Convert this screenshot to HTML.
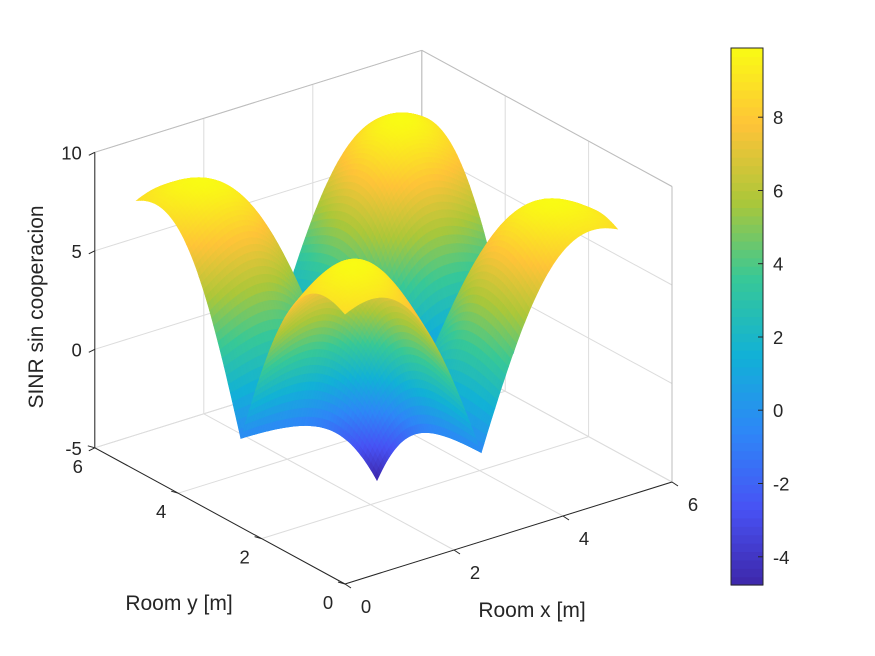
<!DOCTYPE html>
<html>
<head>
<meta charset="utf-8">
<style>
  html,body{margin:0;padding:0;background:#fff;}
  #wrap{position:relative;width:875px;height:656px;overflow:hidden;background:#fff;}
  svg text{font-family:"Liberation Sans",Arial,sans-serif;fill:#262626;}
</style>
</head>
<body>
<div id="wrap">
<svg id="chart" width="875" height="656" viewBox="0 0 875 656" xmlns="http://www.w3.org/2000/svg">
  <g id="grid"></g>
  <g id="surface"></g>
  <g id="axes"></g>
  <g id="cbar"></g>
  <text x="0" y="0" transform="translate(43,307) rotate(-90)" text-anchor="middle" font-size="21">SINR sin cooperacion</text>
  <text x="532" y="617" text-anchor="middle" font-size="21">Room x [m]</text>
  <text x="179" y="610" text-anchor="middle" font-size="21">Room y [m]</text>
</svg>
</div>
<script>
// ---- data ----
const apX = [1.25, 1.25, 3.75, 3.75];
const apY = [1.25, 3.75, 1.25, 3.75];
const roomMin = 0, roomMax = 5;
const apHeightSq = [3.5];
const pathExp = [2.66];
const xTicks = [0, 2, 4, 6];
const yTicks = [0, 2, 4, 6];
const zTicks = [-5, 0, 5, 10];
const cbTicks = [-4, -2, 0, 2, 4, 6, 8];
const parula = [[0.2422,0.1504,0.6603],[0.2810,0.3228,0.9579],[0.1786,0.5289,0.9682],[0.0689,0.6948,0.8394],[0.2161,0.7843,0.5923],[0.6720,0.7793,0.2227],[0.9970,0.7659,0.2199],[0.9769,0.9839,0.0805]];

const NS = "http://www.w3.org/2000/svg";
function P(x,y,z){ return [345 + 54.5*x - 41.7*y, 584 - 17*x - 22.7*y - 19.7*(z+5)]; }
function mk(tag, attrs, parent){ const e=document.createElementNS(NS,tag); for(const k in attrs) e.setAttribute(k,attrs[k]); parent.appendChild(e); return e; }
function line(a,b,stroke,w,parent,name){
  const e=mk('line',{x1:a[0].toFixed(1),y1:a[1].toFixed(1),x2:b[0].toFixed(1),y2:b[1].toFixed(1),stroke:stroke,'stroke-width':w},parent);
  
  
  return e;
}
function color(t){
  t=Math.max(0,Math.min(1,t)); const n=parula.length-1; const f=t*n; const i=Math.min(n-1,Math.floor(f)); const u=f-i;
  const c=parula[i].map((v,k)=>Math.round(255*(v+(parula[i+1][k]-v)*u)));
  return `rgb(${c[0]},${c[1]},${c[2]})`;
}
function sinr(x,y){
  const g=apX.map((ax,i)=>Math.pow((x-ax)**2+(y-apY[i])**2+apHeightSq[0],-pathExp[0]));
  const s=Math.max(...g); const tot=g.reduce((a,b)=>a+b,0);
  return 10*Math.log10(s/(tot-s));
}

// ---- grid ----
const G=document.getElementById('grid');
const gc='#dcdcdc';
xTicks.forEach(x=>{ line(P(x,6,-5),P(x,6,10),gc,1,G,'back-wall-gridline-x'); line(P(x,0,-5),P(x,6,-5),gc,1,G,'floor-gridline-x'); });
yTicks.forEach(y=>{ line(P(6,y,-5),P(6,y,10),gc,1,G,'side-wall-gridline-y'); line(P(0,y,-5),P(6,y,-5),gc,1,G,'floor-gridline-y'); });
zTicks.forEach(z=>{ line(P(0,6,z),P(6,6,z),gc,1,G,'back-wall-gridline-z'); line(P(6,6,z),P(6,0,z),gc,1,G,'side-wall-gridline-z'); });
line(P(0,6,10),P(6,6,10),'#bdbdbd',1,G,'box-edge');
line(P(6,6,10),P(6,0,10),'#bdbdbd',1,G,'box-edge');
line(P(6,0,10),P(6,0,-5),'#bdbdbd',1,G,'box-edge');
line(P(6,6,10),P(6,6,-5),'#bdbdbd',1,G,'box-edge');

// ---- surface ----
const N=100, step=(roomMax-roomMin)/N;
const Z=[]; let zmin=1e9,zmax=-1e9;
for(let i=0;i<=N;i++){Z.push([]);for(let j=0;j<=N;j++){const v=sinr(roomMin+i*step,roomMin+j*step);Z[i].push(v);zmin=Math.min(zmin,v);zmax=Math.max(zmax,v);}}
const quads=[];
for(let i=0;i<N;i++)for(let j=0;j<N;j++){
  const x0=roomMin+i*step,y0=roomMin+j*step,x1=x0+step,y1=y0+step;
  const zs=[Z[i][j],Z[i+1][j],Z[i+1][j+1],Z[i][j+1]];
  const zm=(zs[0]+zs[1]+zs[2]+zs[3])/4;
  const d=821*(x0+step/2)+1074*(y0+step/2)-1946*zm;
  quads.push({pts:[P(x0,y0,zs[0]),P(x1,y0,zs[1]),P(x1,y1,zs[2]),P(x0,y1,zs[3])],z:zm,d:d});
}
quads.sort((a,b)=>b.d-a.d);
const S=document.getElementById('surface');
let html='';
quads.forEach(q=>{const c=color((q.z-zmin)/(zmax-zmin));
  html+=`<polygon points="${q.pts.map(p=>p[0].toFixed(1)+','+p[1].toFixed(1)).join(' ')}" fill="${c}" stroke="${c}" stroke-width="0.6"/>`;});
S.innerHTML=html;

// ---- axes ----
const A=document.getElementById('axes');
line(P(0,6,-5),P(0,6,10),'#262626',1,A,'z-axis-line');
line(P(0,0,-5),P(0,6,-5),'#262626',1,A,'y-axis-line');
line(P(0,0,-5),P(6,0,-5),'#262626',1,A,'x-axis-line');
zTicks.forEach(z=>{const p=P(0,6,z); line(p,[p[0]-6,p[1]+3],'#262626',1,A,'z-tick');
  const t=mk('text',{x:p[0]-13,y:p[1]+7,'text-anchor':'end','font-size':18.5},A); t.textContent=z;
   });
yTicks.forEach(y=>{const p=P(0,y,-5); line(p,[p[0]-7,p[1]-2],'#262626',1,A,'y-tick');
  const t=mk('text',{x:p[0]-17,y:p[1]+25,'text-anchor':'middle','font-size':18.5},A); t.textContent=y;
   });
xTicks.forEach(x=>{const p=P(x,0,-5); line(p,[p[0]+6,p[1]+4],'#262626',1,A,'x-tick');
  const t=mk('text',{x:p[0]+21,y:p[1]+29,'text-anchor':'middle','font-size':18.5},A); t.textContent=x;
   });

// ---- colorbar ----
const C=document.getElementById('cbar');
const cbX=731,cbW=32,cbTop=48,cbBot=585;
const cy=v=>cbBot-(v-zmin)/(zmax-zmin)*(cbBot-cbTop);
const nb=64;
for(let k=0;k<nb;k++){const y0=cbBot-(k+1)*(cbBot-cbTop)/nb;
  const r=mk('rect',{x:cbX,y:y0.toFixed(2),width:cbW,height:((cbBot-cbTop)/nb+0.6).toFixed(2),fill:color((k+0.5)/nb)},C);
   }
const fr=mk('rect',{x:cbX,y:cbTop,width:cbW,height:cbBot-cbTop,fill:'none',stroke:'#262626','stroke-width':1},C);
 
cbTicks.forEach(v=>{const y=cy(v); line([cbX+cbW-5,y],[cbX+cbW,y],'#262626',1,C,'colorbar-tick');
  const t=mk('text',{x:cbX+cbW+10,y:y+7,'font-size':18.5},C); t.textContent=v;
   });
</script>
</body>
</html>
